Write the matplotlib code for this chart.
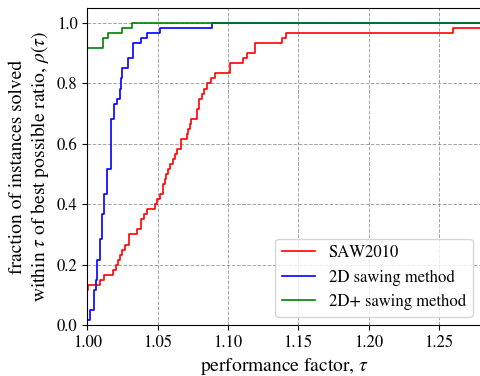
import numpy as np
import matplotlib.pyplot as plt

plt.rcParams['font.family'] = ['STIXGeneral', 'DejaVu Serif']
plt.rcParams['mathtext.fontset'] = 'stix'

# 60 instances, step curves (tau, number of instances solved)
n_inst = 60

saw2010_tau = [1.0, 1.0005, 1.0089, 1.0117, 1.0184, 1.0203, 1.0217, 1.0236, 1.025, 1.0265,
               1.0298, 1.0354, 1.0385, 1.0402, 1.0425, 1.0478, 1.0496, 1.052, 1.0535, 1.0551,
               1.0563, 1.0575, 1.0587, 1.0606, 1.0622, 1.0639, 1.0663, 1.0706, 1.0717, 1.0729,
               1.0741, 1.0777, 1.0795, 1.0819, 1.0829, 1.0852, 1.0883, 1.0907, 1.1013, 1.1104,
               1.1139, 1.1191, 1.1386, 1.1412, 1.2602, 1.30]
saw2010_cnt = [7, 8, 9, 10, 11, 12, 13, 14, 15, 16,
               18, 19, 21, 22, 23, 24, 25, 26, 28, 29,
               30, 31, 32, 33, 34, 35, 37, 38, 39, 40,
               41, 43, 45, 46, 47, 48, 49, 50, 52, 53,
               54, 56, 57, 58, 59, 59]

saw2d_tau = [1.0, 1.0018, 1.0046, 1.006, 1.007, 1.0089, 1.0108, 1.0122, 1.0141, 1.0165,
             1.019, 1.0212, 1.0231, 1.024, 1.025, 1.029, 1.0326, 1.038, 1.0425, 1.052,
             1.089, 1.30]
saw2d_cnt = [1, 3, 7, 9, 13, 17, 22, 26, 31, 41,
             44, 45, 47, 49, 51, 53, 56, 57, 58, 59,
             60, 60]

saw2dp_tau = [1.0, 1.0115, 1.0146, 1.025, 1.032, 1.30]
saw2dp_cnt = [55, 57, 58, 59, 60, 60]

fig = plt.figure(figsize=(4.81, 3.76), dpi=100)
ax = fig.add_axes([0.1815, 0.1356, 1 - 0.1815, 0.9787 - 0.1356])

ax.step(saw2010_tau, np.array(saw2010_cnt) / n_inst, where='post', color='red', lw=1.2, label='SAW2010')
ax.step(saw2d_tau, np.array(saw2d_cnt) / n_inst, where='post', color='blue', lw=1.2, label='2D sawing method')
ax.step(saw2dp_tau, np.array(saw2dp_cnt) / n_inst, where='post', color='green', lw=1.2, label='2D+ sawing method')

ax.set_xlim(1.0, 1.28)
ax.set_ylim(0, 1.05)
ax.set_xticks([1.00, 1.05, 1.10, 1.15, 1.20, 1.25])
ax.set_yticks([0.0, 0.2, 0.4, 0.6, 0.8, 1.0])
ax.tick_params(labelsize=12)
ax.grid(True, linestyle='--', color='gray', alpha=0.7, lw=0.7)

ax.set_xlabel(r'performance factor, $\tau$', fontsize=14)
ax.set_ylabel('fraction of instances solved\n' + r'within $\tau$ of best possible ratio, $\rho(\tau)$', fontsize=14)
ax.legend(loc='lower right', fontsize=12)

fig.savefig('out.png', dpi=100)
